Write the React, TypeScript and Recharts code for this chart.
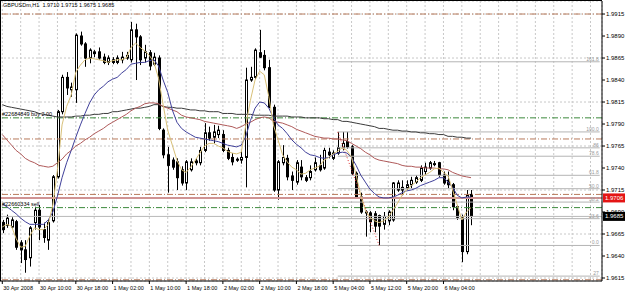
import React from 'react';
import {
  ComposedChart,
  Bar,
  Line,
  XAxis,
  YAxis,
  CartesianGrid,
  ReferenceLine,
} from 'recharts';

// GBPUSDm H1, 30 Apr 2008 02:00 .. 6 May 2008 08:00
const timeLabels = [
  '30 Apr 2008', '30 Apr 10:00', '30 Apr 18:00', '1 May 02:00', '1 May 10:00',
  '1 May 18:00', '2 May 02:00', '2 May 10:00', '2 May 18:00', '5 May 04:00',
  '5 May 12:00', '5 May 20:00', '6 May 04:00',
];

const opens = [
  1.9678, 1.9675, 1.9673, 1.9679, 1.9655, 1.9647, 1.9638, 1.9678, 1.9692, 1.9670,
  1.9658, 1.9680, 1.9730, 1.9804, 1.9843, 1.9829, 1.9829, 1.9890, 1.9881, 1.9865,
  1.9870, 1.9872, 1.9866, 1.9860, 1.9863, 1.9860, 1.9863, 1.9865, 1.9863, 1.9897,
  1.9889, 1.9865, 1.9871, 1.9858, 1.9865, 1.9783, 1.9755, 1.9749, 1.9747, 1.9738,
  1.9723, 1.9738, 1.9746, 1.9746, 1.9760, 1.9780, 1.9775, 1.9778, 1.9778, 1.9760,
  1.9752, 1.9750, 1.9749, 1.9752, 1.9840, 1.9843, 1.9871, 1.9868, 1.9854, 1.9809,
  1.9715, 1.9746, 1.9751, 1.9731, 1.9724, 1.9741, 1.9729, 1.9729, 1.9738, 1.9743,
  1.9740, 1.9758, 1.9751, 1.9757, 1.9763, 1.9770, 1.9764, 1.9734, 1.9707, 1.9689,
  1.9689, 1.9688, 1.9686, 1.9676, 1.9680, 1.9681, 1.9715, 1.9715, 1.9717, 1.9721,
  1.9724, 1.9726, 1.9736, 1.9740, 1.9745, 1.9746, 1.9732, 1.9726, 1.9721, 1.9696,
  1.9684, 1.9645, 1.9710,
];
const highs = [
  1.9681, 1.9687, 1.9684, 1.9681, 1.9658, 1.9658, 1.9674, 1.9696, 1.9698, 1.9678,
  1.9681, 1.9732, 1.9806, 1.9846, 1.9849, 1.9837, 1.9893, 1.9895, 1.9883, 1.9876,
  1.9874, 1.9877, 1.9870, 1.9868, 1.9866, 1.9868, 1.9872, 1.9872, 1.9906, 1.9904,
  1.9891, 1.9880, 1.9874, 1.9871, 1.9868, 1.9785, 1.9764, 1.9752, 1.9751, 1.9742,
  1.9749, 1.9751, 1.9751, 1.9764, 1.9791, 1.9787, 1.9789, 1.9788, 1.9783, 1.9763,
  1.9757, 1.9752, 1.9760, 1.9854, 1.9855, 1.9876, 1.9897, 1.9874, 1.9863, 1.9812,
  1.9749, 1.9766, 1.9755, 1.9736, 1.9749, 1.9749, 1.9732, 1.9743, 1.9752, 1.9755,
  1.9763, 1.9763, 1.9760, 1.9781, 1.9781, 1.9781, 1.9766, 1.9736, 1.9712, 1.9692,
  1.9691, 1.9691, 1.9687, 1.9690, 1.9692, 1.9724, 1.9726, 1.9726, 1.9726, 1.9730,
  1.9732, 1.9743, 1.9746, 1.9748, 1.9748, 1.9747, 1.9736, 1.9736, 1.9723, 1.9698,
  1.9687, 1.9715, 1.9715,
];
const lows = [
  1.9666, 1.9672, 1.9671, 1.9647, 1.9632, 1.9621, 1.9628, 1.9670, 1.9658, 1.9655,
  1.9647, 1.9678, 1.9728, 1.9801, 1.9823, 1.9821, 1.9814, 1.9879, 1.9855, 1.9859,
  1.9866, 1.9863, 1.9858, 1.9857, 1.9858, 1.9858, 1.9859, 1.9863, 1.9860, 1.9840,
  1.9857, 1.9860, 1.9851, 1.9856, 1.9783, 1.9751, 1.9712, 1.9738, 1.9715, 1.9720,
  1.9715, 1.9736, 1.9743, 1.9743, 1.9758, 1.9771, 1.9768, 1.9774, 1.9758, 1.9749,
  1.9743, 1.9747, 1.9745, 1.9718, 1.9838, 1.9841, 1.9865, 1.9851, 1.9808, 1.9713,
  1.9704, 1.9743, 1.9726, 1.9715, 1.9721, 1.9726, 1.9724, 1.9726, 1.9736, 1.9736,
  1.9738, 1.9751, 1.9749, 1.9755, 1.9760, 1.9762, 1.9732, 1.9705, 1.9688, 1.9662,
  1.9667, 1.9667, 1.9652, 1.9670, 1.9675, 1.9679, 1.9713, 1.9709, 1.9715, 1.9717,
  1.9722, 1.9724, 1.9732, 1.9738, 1.9742, 1.9730, 1.9721, 1.9717, 1.9692, 1.9681,
  1.9633, 1.9642, 1.9675,
];
const closes = [
  1.9670, 1.9683, 1.9681, 1.9650, 1.9647, 1.9636, 1.9672, 1.9692, 1.9673, 1.9661,
  1.9678, 1.9730, 1.9804, 1.9843, 1.9831, 1.9832, 1.9891, 1.9881, 1.9865, 1.9874,
  1.9872, 1.9865, 1.9860, 1.9865, 1.9860, 1.9865, 1.9866, 1.9868, 1.9897, 1.9889,
  1.9863, 1.9872, 1.9856, 1.9866, 1.9785, 1.9755, 1.9743, 1.9741, 1.9729, 1.9723,
  1.9747, 1.9747, 1.9748, 1.9760, 1.9780, 1.9774, 1.9781, 1.9783, 1.9760, 1.9751,
  1.9747, 1.9749, 1.9752, 1.9840, 1.9843, 1.9874, 1.9866, 1.9854, 1.9809, 1.9715,
  1.9747, 1.9752, 1.9730, 1.9726, 1.9746, 1.9730, 1.9726, 1.9736, 1.9746, 1.9738,
  1.9760, 1.9755, 1.9757, 1.9763, 1.9768, 1.9764, 1.9734, 1.9707, 1.9690, 1.9690,
  1.9679, 1.9674, 1.9674, 1.9685, 1.9690, 1.9723, 1.9723, 1.9718, 1.9721, 1.9726,
  1.9729, 1.9740, 1.9741, 1.9746, 1.9745, 1.9732, 1.9723, 1.9721, 1.9696, 1.9684,
  1.9645, 1.9709, 1.9685,
];

// moving averages as drawn on the chart
const maFast = [
  1.9673, 1.9676, 1.9674, 1.9660, 1.9650, 1.9651, 1.9663, 1.9672, 1.9670, 1.9670,
  1.9676, 1.9698, 1.9738, 1.9789, 1.9810, 1.9823, 1.9849, 1.9857, 1.9863, 1.9865,
  1.9864, 1.9863, 1.9862, 1.9860, 1.9862, 1.9863, 1.9863, 1.9865, 1.9877, 1.9882,
  1.9877, 1.9873, 1.9868, 1.9860, 1.9842, 1.9812, 1.9783, 1.9766, 1.9749, 1.9738,
  1.9735, 1.9741, 1.9749, 1.9757, 1.9765, 1.9768, 1.9768, 1.9765, 1.9763, 1.9759,
  1.9757, 1.9756, 1.9758, 1.9789, 1.9817, 1.9840, 1.9850, 1.9846, 1.9821, 1.9789,
  1.9772, 1.9755, 1.9747, 1.9741, 1.9738, 1.9733, 1.9734, 1.9738, 1.9740, 1.9742,
  1.9749, 1.9752, 1.9756, 1.9759, 1.9763, 1.9760, 1.9752, 1.9732, 1.9709, 1.9692,
  1.9684, 1.9680, 1.9678, 1.9680, 1.9684, 1.9692, 1.9700, 1.9709, 1.9715, 1.9720,
  1.9724, 1.9729, 1.9732, 1.9735, 1.9739, 1.9740, 1.9735, 1.9731, 1.9715, 1.9698,
  1.9681, 1.9690, 1.9695,
];
const maMid = [
  1.9699, 1.9696, 1.9692, 1.9688, 1.9683, 1.9679, 1.9676, 1.9676, 1.9676, 1.9676,
  1.9681, 1.9690, 1.9708, 1.9729, 1.9746, 1.9760, 1.9775, 1.9789, 1.9802, 1.9814,
  1.9823, 1.9829, 1.9833, 1.9838, 1.9841, 1.9843, 1.9848, 1.9852, 1.9858, 1.9859,
  1.9860, 1.9860, 1.9862, 1.9863, 1.9856, 1.9840, 1.9826, 1.9806, 1.9792, 1.9785,
  1.9781, 1.9778, 1.9775, 1.9774, 1.9773, 1.9772, 1.9771, 1.9770, 1.9768, 1.9766,
  1.9765, 1.9764, 1.9766, 1.9776, 1.9794, 1.9808, 1.9815, 1.9814, 1.9808, 1.9797,
  1.9789, 1.9785, 1.9779, 1.9772, 1.9767, 1.9763, 1.9758, 1.9755, 1.9754, 1.9752,
  1.9751, 1.9752, 1.9755, 1.9757, 1.9758, 1.9757, 1.9752, 1.9743, 1.9732, 1.9724,
  1.9716, 1.9711, 1.9707, 1.9706, 1.9706, 1.9707, 1.9709, 1.9712, 1.9714, 1.9715,
  1.9717, 1.9720, 1.9722, 1.9724, 1.9726, 1.9729, 1.9729, 1.9724, 1.9718, 1.9709,
  1.9706, 1.9707, 1.9707,
];
const maSlow = [
  1.9778, 1.9772, 1.9766, 1.9760, 1.9756, 1.9751, 1.9748, 1.9746, 1.9743, 1.9742,
  1.9741, 1.9742, 1.9746, 1.9750, 1.9756, 1.9760, 1.9765, 1.9768, 1.9772, 1.9775,
  1.9779, 1.9782, 1.9785, 1.9789, 1.9792, 1.9795, 1.9798, 1.9801, 1.9805, 1.9808,
  1.9810, 1.9813, 1.9814, 1.9814, 1.9813, 1.9810, 1.9808, 1.9806, 1.9804, 1.9800,
  1.9798, 1.9797, 1.9796, 1.9795, 1.9793, 1.9792, 1.9791, 1.9790, 1.9789, 1.9788,
  1.9787, 1.9785, 1.9787, 1.9790, 1.9792, 1.9795, 1.9797, 1.9798, 1.9797, 1.9793,
  1.9792, 1.9791, 1.9789, 1.9787, 1.9784, 1.9782, 1.9780, 1.9778, 1.9776, 1.9775,
  1.9774, 1.9774, 1.9773, 1.9773, 1.9772, 1.9771, 1.9768, 1.9765, 1.9762, 1.9758,
  1.9755, 1.9751, 1.9749, 1.9748, 1.9747, 1.9746, 1.9745, 1.9743, 1.9742, 1.9742,
  1.9741, 1.9741, 1.9740, 1.9740, 1.9740, 1.9739, 1.9739, 1.9738, 1.9735, 1.9733,
  1.9731, 1.9730, 1.9729,
];
const maLong = [
  1.9812, 1.9810, 1.9809, 1.9808, 1.9807, 1.9806, 1.9805, 1.9804, 1.9802, 1.9801,
  1.9800, 1.9799, 1.9798, 1.9798, 1.9798, 1.9798, 1.9799, 1.9799, 1.9800, 1.9800,
  1.9801, 1.9801, 1.9802, 1.9802, 1.9804, 1.9804, 1.9805, 1.9806, 1.9807, 1.9808,
  1.9808, 1.9809, 1.9810, 1.9812, 1.9812, 1.9810, 1.9809, 1.9809, 1.9808, 1.9808,
  1.9807, 1.9806, 1.9806, 1.9805, 1.9805, 1.9804, 1.9804, 1.9804, 1.9802, 1.9802,
  1.9802, 1.9801, 1.9801, 1.9801, 1.9801, 1.9800, 1.9800, 1.9800, 1.9800, 1.9799,
  1.9799, 1.9799, 1.9799, 1.9798, 1.9798, 1.9798, 1.9797, 1.9797, 1.9797, 1.9797,
  1.9796, 1.9796, 1.9795, 1.9795, 1.9793, 1.9793, 1.9792, 1.9791, 1.9790, 1.9789,
  1.9788, 1.9787, 1.9785, 1.9785, 1.9784, 1.9783, 1.9783, 1.9782, 1.9782, 1.9781,
  1.9781, 1.9780, 1.9780, 1.9779, 1.9779, 1.9778, 1.9778, 1.9776, 1.9776, 1.9775,
  1.9775, 1.9774, 1.9774,
];

const priceTicks = [
  1.9615, 1.964, 1.9665, 1.969, 1.9715, 1.974, 1.9765, 1.979, 1.9815, 1.984,
  1.9865, 1.989, 1.9915,
];

// horizontal objects: order lines, stops and targets
const stopLevels = [1.9915, 1.9773, 1.971, 1.9613];
const buyOrder = { price: 1.9797, text: '#22684849 buy 2.00' };
const sellOrder = { price: 1.9695, text: '#22660334 sell' };
const alertLevel = 1.9706;
const bidPrice = 1.9685;

// fibonacci retracement drawn from the 5 May high to the low
const fibFrom = 73;
const fibTo = 82;
const fibHigh = 1.9781;
const fibLow = 1.9652;
const fibRatios = [1.618, 1, 0.86, 0.786, 0.618, 0.5, 0.382, 0.236, 0, -0.27];
const fibNames = ['161.8', '100.0', '86', '78.6', '61.8', '50.0', '38.2', '23.6', '0.0', '27'];

const SLOTS = 131; // chart shift leaves empty bars on the right
const FONT = '"Liberation Sans", Arial, sans-serif';

const rows = Array.from({ length: SLOTS }, (_, i) => ({
  i,
  open: opens[i],
  high: highs[i],
  low: lows[i],
  close: closes[i],
  range: i < opens.length ? [lows[i], highs[i]] : null,
  maFast: maFast[i],
  maMid: maMid[i],
  maSlow: maSlow[i],
  maLong: maLong[i],
}));

const Candle = (props: any) => {
  const { x, y, width, height, payload } = props;
  if (payload == null || payload.open == null) return null;
  const { open, close, high, low } = payload;
  const h = Math.abs(height);
  const top = height < 0 ? y + height : y;
  const k = high === low ? 0 : h / (high - low);
  const yo = top + (high - open) * k;
  const yc = top + (high - close) * k;
  const cx = Math.round(x + width / 2) + 0.5;
  const bodyTop = Math.min(yo, yc);
  const bodyH = Math.max(Math.abs(yc - yo), 1);
  const bull = close >= open;
  return (
    <g>
      <line x1={cx} x2={cx} y1={top} y2={top + h} stroke="#000" strokeWidth={1} />
      <rect
        x={cx - 1}
        y={bodyTop}
        width={2}
        height={bodyH}
        fill={bull ? '#fff' : '#000'}
        stroke="#000"
        strokeWidth={1}
      />
    </g>
  );
};

const TimeTick = (props: any) => {
  const { x, y, payload } = props;
  const i = Number(payload.value);
  if (i % 8 !== 0 || i / 8 >= timeLabels.length) return <g />;
  return (
    <g>
      <line x1={x} x2={x} y1={y - 3} y2={y} stroke="#000" />
      <text x={x + 1} y={y + 4} fontSize={5.5} fontFamily={FONT} fill="#000" dominantBaseline="central">
        {timeLabels[i / 8]}
      </text>
    </g>
  );
};

const PriceTag = (props: any) => {
  const { viewBox, value, bg } = props;
  if (!viewBox) return null;
  const x = viewBox.x + viewBox.width + 1;
  return (
    <g>
      <rect x={x} y={viewBox.y - 4.5} width={22} height={9} fill={bg} />
      <text x={x + 2} y={viewBox.y} fontSize={6} fontFamily={FONT} fill="#fff" dominantBaseline="central">
        {value}
      </text>
    </g>
  );
};

const dashDot = '6 2 1 2';

export default function App() {
  return (
    <div style={{ position: 'absolute', left: 0, top: 0, width: 625, height: 294, background: '#fff' }}>
      <ComposedChart
        width={625}
        height={294}
        data={rows}
        margin={{ top: 1, right: 0, bottom: 0, left: 0 }}
        barCategoryGap={0}
      >
        <CartesianGrid stroke="#c8c8c8" strokeDasharray="2 2" />
        <XAxis
          dataKey="i"
          type="category"
          interval={3}
          height={13}
          tickSize={3}
          tickMargin={0}
          tickLine={false}
          axisLine={{ stroke: '#000' }}
          tick={<TimeTick />}
        />
        <YAxis
          orientation="right"
          type="number"
          domain={[1.96116, 1.99298]}
          allowDataOverflow
          ticks={priceTicks}
          width={23}
          tickSize={3}
          tickMargin={1}
          axisLine={{ stroke: '#000' }}
          tickLine={{ stroke: '#000' }}
          tick={{ fontSize: 6, fill: '#000', fontFamily: FONT }}
          tickFormatter={(v: number) => v.toFixed(4)}
        />

        {stopLevels.map((p) => (
          <ReferenceLine key={p} y={p} stroke="#b87a5c" strokeDasharray={dashDot} />
        ))}
        <ReferenceLine
          y={buyOrder.price}
          stroke="#3c8a3c"
          strokeDasharray={dashDot}
          label={{ value: buyOrder.text, position: 'insideBottomLeft', offset: 2, fontSize: 5.5, fill: '#000', fontFamily: FONT }}
        />
        <ReferenceLine
          y={sellOrder.price}
          stroke="#3c8a3c"
          strokeDasharray={dashDot}
          label={{ value: sellOrder.text, position: 'insideBottomLeft', offset: 2, fontSize: 5.5, fill: '#000', fontFamily: FONT }}
        />
        {fibRatios.map((r, n) => {
          const p = fibLow + r * (fibHigh - fibLow);
          return (
            <ReferenceLine
              key={fibNames[n]}
              segment={[{ x: fibFrom, y: p }, { x: SLOTS - 1, y: p }]}
              stroke="#b4b4b4"
              label={{ value: fibNames[n], position: 'insideBottomRight', offset: 1, fontSize: 5, fill: '#9a9a9a', fontFamily: FONT }}
            />
          );
        })}
        <ReferenceLine
          segment={[{ x: fibFrom, y: fibHigh }, { x: fibTo, y: fibLow }]}
          stroke="#e03030"
          strokeDasharray="1 2"
        />
        <ReferenceLine y={bidPrice} stroke="#b8b8b8" label={<PriceTag value={bidPrice.toFixed(4)} bg="#000" />} />
        <ReferenceLine y={alertLevel} stroke="#d09494" strokeWidth={2} label={<PriceTag value={alertLevel.toFixed(4)} bg="#e41414" />} />

        <Bar dataKey="range" barSize={3} shape={<Candle />} isAnimationActive={false} />
        <Line dataKey="maLong" stroke="#3c3c3c" dot={false} strokeWidth={1} isAnimationActive={false} />
        <Line dataKey="maSlow" stroke="#b05a5a" dot={false} strokeWidth={1} isAnimationActive={false} />
        <Line dataKey="maMid" stroke="#40409a" dot={false} strokeWidth={1} isAnimationActive={false} />
        <Line dataKey="maFast" stroke="#d8c078" dot={false} strokeWidth={1} isAnimationActive={false} />
      </ComposedChart>
      <div
        style={{
          position: 'absolute',
          left: 0,
          top: 0,
          width: 602,
          height: 281,
          borderTop: '1px solid #000',
          borderLeft: '1px solid #000',
          boxSizing: 'border-box',
          pointerEvents: 'none',
        }}
      />
      <div
        style={{
          position: 'absolute',
          left: 3,
          top: 2,
          fontSize: 5.5,
          lineHeight: '7px',
          fontFamily: FONT,
          color: '#000',
          whiteSpace: 'pre',
        }}
      >
        {'GBPUSDm,H1  1.9710 1.9715 1.9675 1.9685'}
      </div>
    </div>
  );
}
